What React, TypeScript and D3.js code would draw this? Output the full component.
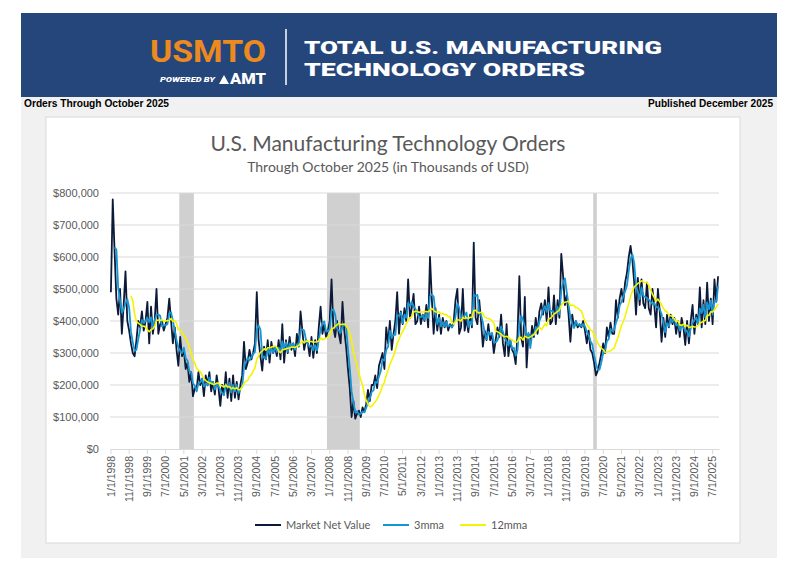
import React, { useEffect, useRef } from 'react';
import * as d3 from 'd3';

// Market net value by month, Jan 1998 - Oct 2025 (thousands of the axis unit, i.e. x1000 = $K)
const orders1998 = [490, 780, 620, 470, 420, 500, 360, 450, 555, 400, 370, 330];
const orders1999 = [300, 290, 340, 400, 380, 430, 370, 400, 460, 330, 445, 360];
const orders2000 = [400, 500, 360, 390, 400, 370, 390, 410, 470, 400, 330, 380];
const orders2001 = [310, 260, 350, 290, 310, 250, 270, 210, 240, 165, 190, 185];
const orders2002 = [240, 200, 220, 165, 230, 200, 240, 180, 210, 170, 230, 190];
const orders2003 = [135, 200, 170, 240, 160, 220, 150, 230, 160, 210, 155, 200];
const orders2004 = [230, 335, 250, 270, 310, 280, 300, 330, 490, 340, 290, 245];
const orders2005 = [320, 280, 340, 270, 335, 300, 320, 290, 340, 280, 390, 270];
const orders2006 = [340, 300, 350, 310, 330, 290, 360, 320, 430, 370, 310, 340];
const orders2007 = [330, 290, 350, 285, 340, 300, 380, 445, 360, 390, 350, 370];
const orders2008 = [400, 530, 380, 350, 400, 360, 330, 460, 370, 320, 250, 190];
const orders2009 = [100, 150, 95, 110, 120, 100, 130, 115, 140, 185, 150, 200];
const orders2010 = [200, 230, 190, 260, 280, 300, 250, 380, 330, 400, 310, 360];
const orders2011 = [400, 490, 360, 430, 390, 440, 400, 530, 410, 440, 485, 390];
const orders2012 = [400, 445, 390, 420, 400, 450, 380, 600, 470, 360, 440, 370];
const orders2013 = [420, 360, 410, 380, 400, 370, 390, 380, 400, 465, 500, 360];
const orders2014 = [380, 500, 370, 410, 365, 420, 380, 645, 410, 390, 465, 400];
const orders2015 = [320, 370, 340, 390, 340, 360, 300, 340, 380, 350, 420, 330];
const orders2016 = [290, 390, 290, 340, 310, 300, 265, 360, 540, 350, 320, 475];
const orders2017 = [255, 360, 330, 385, 350, 410, 360, 430, 455, 420, 465, 400];
const orders2018 = [505, 390, 400, 480, 390, 465, 410, 610, 540, 450, 480, 420];
const orders2019 = [335, 420, 380, 400, 380, 390, 380, 400, 370, 330, 370, 310];
const orders2020 = [300, 270, 230, 245, 270, 300, 330, 300, 380, 350, 395, 360];
const orders2021 = [360, 465, 410, 470, 500, 460, 520, 550, 600, 635, 590, 520];
const orders2022 = [420, 535, 450, 530, 455, 440, 520, 440, 420, 500, 450, 380];
const orders2023 = [500, 430, 335, 410, 350, 420, 380, 420, 390, 410, 360, 400];
const orders2024 = [350, 410, 380, 325, 400, 330, 400, 450, 360, 420, 390, 505];
const orders2025 = [380, 465, 390, 520, 400, 470, 390, 530, 460, 540];

const firstYear = 1998;
const marketNetValue = [
  orders1998, orders1999, orders2000, orders2001, orders2002, orders2003, orders2004,
  orders2005, orders2006, orders2007, orders2008, orders2009, orders2010, orders2011,
  orders2012, orders2013, orders2014, orders2015, orders2016, orders2017, orders2018,
  orders2019, orders2020, orders2021, orders2022, orders2023, orders2024, orders2025,
].flat();

// category labels like the sheet's date column
const monthLabels = marketNetValue.map((_, i) => `${(i % 12) + 1}/1/${firstYear + Math.floor(i / 12)}`);
const xTickStep = 10;
const yTicks = [0, 100, 200, 300, 400, 500, 600, 700, 800];

// recession shading, [first month, month after]
const recessions = [
  ['3/1/2001', '11/1/2001'],
  ['12/1/2007', '6/1/2009'],
  ['2/1/2020', '4/1/2020'],
];

const seriesNames = ['Market Net Value', '3mma', '12mma'];
const seriesColors = ['#0c1a3a', '#1596d3', '#f4f400'];

// trailing moving average, as the sheet's 3mma / 12mma columns
const movingAverage = (vals: number[], w: number) =>
  vals.map((_, i) => (i < w - 1 ? null : d3.mean(vals.slice(i - w + 1, i + 1)) as number));

const threeMma = movingAverage(marketNetValue, 3);
const twelveMma = movingAverage(marketNetValue, 12);

const W = 800;
const H = 569;
const plot = { left: 110, right: 719, top: 193, bottom: 449 };
const axisFont = '"Liberation Sans", Arial, sans-serif';
const textGray = '#595959';

const App: React.FC = () => {
  const xAxisRef = useRef<SVGGElement>(null);
  const yAxisRef = useRef<SVGGElement>(null);

  const x = d3.scaleBand<string>().domain(monthLabels).range([plot.left, plot.right]);
  const y = d3.scaleLinear().domain([0, 800]).range([plot.bottom, plot.top]);
  const cx = (i: number) => (x(monthLabels[i]) as number) + x.bandwidth() / 2;

  const line = d3.line<number | null>()
    .defined(d => d != null)
    .x((_, i) => cx(i))
    .y(d => y(d as number));

  useEffect(() => {
    document.body.style.margin = '0';
    if (xAxisRef.current) {
      const g = d3.select(xAxisRef.current);
      g.selectAll('*').remove();
      const xAxis = d3.axisBottom(x)
        .tickValues(monthLabels.filter((_, i) => i % xTickStep === 0))
        .tickSize(5)
        .tickSizeOuter(0);
      g.call(xAxis);
      g.select('.domain').attr('stroke', '#d9d9d9');
      g.selectAll('.tick line').attr('stroke', '#d9d9d9');
      g.selectAll('.tick text')
        .attr('transform', 'rotate(-90)')
        .attr('text-anchor', 'end')
        .attr('x', -7)
        .attr('y', 0)
        .attr('dy', '0.35em')
        .attr('fill', textGray)
        .style('font-family', axisFont)
        .style('font-size', '10.5px');
    }
    if (yAxisRef.current) {
      const g = d3.select(yAxisRef.current);
      g.selectAll('*').remove();
      const yAxis = d3.axisLeft(y)
        .tickValues(yTicks)
        .tickSize(0)
        .tickPadding(11)
        .tickFormat(d => `$${d3.format(',')((d as number) * 1000)}`);
      g.call(yAxis);
      g.select('.domain').remove();
      g.selectAll('.tick text')
        .attr('fill', textGray)
        .style('font-family', axisFont)
        .style('font-size', '11px');
    }
  }, []);

  return (
    <svg width={W} height={H} style={{ display: 'block' }}>
      <rect width={W} height={H} fill="#fff" />
      {/* banner */}
      <rect x={21} y={13} width={756} height={84} fill="#24467b" />
      <text x={150} y={62} fill="#ec8a1f" fontFamily="Roboto" fontWeight={700} fontSize={31}
        textLength={116} lengthAdjust="spacingAndGlyphs">USMTO</text>
      <text x={160} y={82} fill="#fff" fontFamily="Roboto" fontWeight={900} fontStyle="italic" fontSize={8}
        textLength={55} lengthAdjust="spacingAndGlyphs">POWERED BY</text>
      <path d="M219,84 L224,75 L229,84 Z" fill="#fff" />
      <text x={230} y={84} fill="#fff" fontFamily="Roboto" fontWeight={900} fontSize={15}
        textLength={36} lengthAdjust="spacingAndGlyphs">AMT</text>
      <line x1={286} x2={286} y1={29} y2={85} stroke="#fff" strokeWidth={1.5} />
      <text x={304} y={54} fill="#fff" fontFamily="Roboto" fontWeight={900} fontSize={18.5}
        textLength={358} lengthAdjust="spacingAndGlyphs">TOTAL U.S. MANUFACTURING</text>
      <text x={304} y={76} fill="#fff" fontFamily="Roboto" fontWeight={900} fontSize={18.5}
        textLength={281} lengthAdjust="spacingAndGlyphs">TECHNOLOGY ORDERS</text>

      {/* page panel */}
      <rect x={21} y={97} width={756} height={461} fill="#f1f1f1" />
      <text x={24} y={107} fontFamily={axisFont} fontWeight={700} fontSize={10}
        textLength={145} lengthAdjust="spacingAndGlyphs">Orders Through October 2025</text>
      <text x={773} y={107} textAnchor="end" fontFamily={axisFont} fontWeight={700} fontSize={10}
        textLength={125} lengthAdjust="spacingAndGlyphs">Published December 2025</text>
      <rect x={46} y={117} width={694} height={426} fill="#fff" stroke="#d9d9d9" />

      {/* titles */}
      <text x={388} y={151} textAnchor="middle" fill={textGray} fontFamily="Lato" fontSize={21}>
        U.S. Manufacturing Technology Orders
      </text>
      <text x={388} y={172} textAnchor="middle" fill={textGray} fontFamily="Lato" fontSize={14}>
        Through October 2025 (in Thousands of USD)
      </text>

      {/* recessions */}
      {recessions.map(([a, b]) => (
        <rect key={a} x={x(a)} y={plot.top} width={(x(b) as number) - (x(a) as number)}
          height={plot.bottom - plot.top} fill="#d0d0d0" />
      ))}

      {/* gridlines */}
      {yTicks.filter(t => t > 0).map(t => (
        <line key={t} x1={plot.left} x2={plot.right} y1={y(t)} y2={y(t)} stroke="#d9d9d9" strokeWidth={1} />
      ))}

      <g ref={xAxisRef} transform={`translate(0,${plot.bottom})`} />
      <g ref={yAxisRef} transform={`translate(${plot.left},0)`} />

      <path d={line(marketNetValue) ?? ''} fill="none" stroke={seriesColors[0]} strokeWidth={1.8} strokeLinejoin="round" />
      <path d={line(threeMma) ?? ''} fill="none" stroke={seriesColors[1]} strokeWidth={1.8} strokeLinejoin="round" />
      <path d={line(twelveMma) ?? ''} fill="none" stroke={seriesColors[2]} strokeWidth={1.6} strokeLinejoin="round" />

      {/* legend */}
      {seriesNames.map((name, i) => {
        const lx = [255, 383, 460][i];
        return (
          <g key={name} transform={`translate(${lx},525)`}>
            <line x1={0} x2={26} y1={0} y2={0} stroke={seriesColors[i]} strokeWidth={2} />
            <text x={31} y={4} fill={textGray} fontFamily="Lato" fontSize={11}>{name}</text>
          </g>
        );
      })}
    </svg>
  );
};

export default App;
